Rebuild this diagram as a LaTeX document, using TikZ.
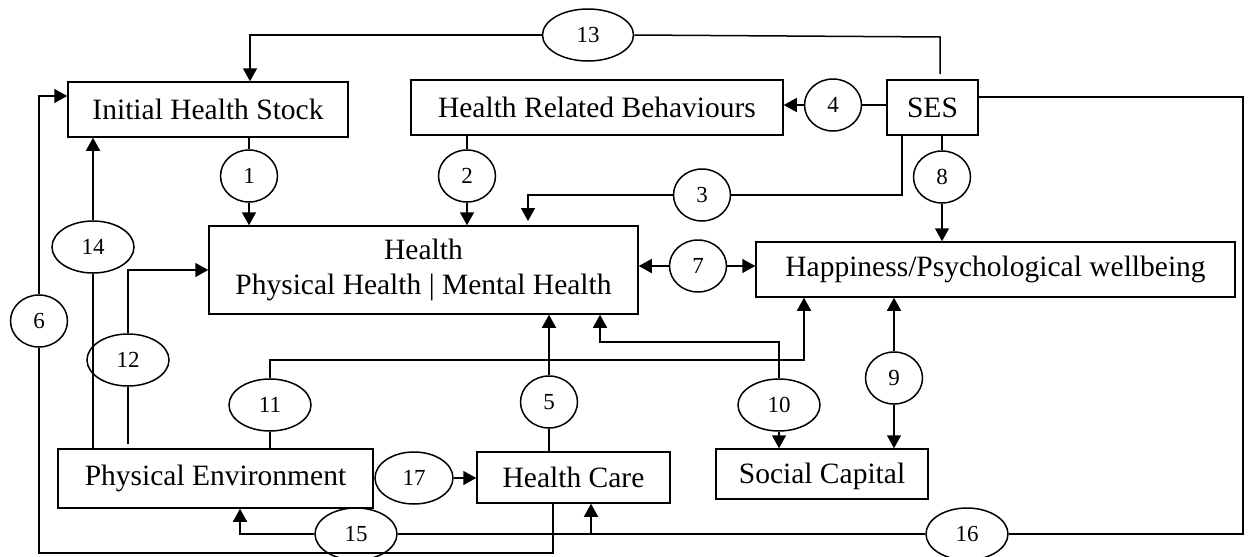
\documentclass[tikz,border=0pt]{standalone}
\usepackage{fontspec}
\setmainfont{Liberation Serif}
\usetikzlibrary{arrows.meta,shapes.geometric}
\begin{document}
\begin{tikzpicture}[x=1pt, y=-1pt, line width=1.5pt,
    box/.style={draw, rectangle, inner sep=0pt, align=center, font=\fontsize{29.5}{35}\selectfont},
    num/.style={draw, ellipse, inner sep=0pt, minimum width=57pt, minimum height=52pt, font=\fontsize{23}{26}\selectfont},
    wnum/.style={num, minimum width=82pt},
    arr/.style={-{Triangle[length=13pt, width=14pt]}}]
    \useasboundingbox (0,0) rectangle (1251,557);
    \node[box, minimum width=280pt, minimum height=55pt] (ihs) at (208,109.5) {Initial Health Stock};
    \node[box, minimum width=372pt, minimum height=55pt] (hrb) at (597,107.5) {Health Related Behaviours};
    \node[box, minimum width=91pt, minimum height=55pt] (ses) at (932.5,107.5) {SES};
    \node[box, minimum width=429pt, minimum height=88pt] (health) at (423.5,270) {Health\\Physical Health | Mental Health};
    \node[box, minimum width=479pt, minimum height=55pt] (happy) at (995.5,269.5) {Happiness/Psychological wellbeing};
    \node[box, minimum width=315pt, minimum height=59pt] (pe) at (215.5,478.5) {Physical Environment};
    \node[box, minimum width=193pt, minimum height=51pt] (hc) at (573.5,477.5) {Health Care};
    \node[box, minimum width=212pt, minimum height=50pt, text depth=2pt] (sc) at (822,474) {Social Capital};
    \node[num] (e1) at (249,176) {1};
    \node[num] (e2) at (467,176) {2};
    \node[num] (e3) at (702,195) {3};
    \node[num] (e4) at (833,105) {4};
    \node[num] (e5) at (549,402) {5};
    \node[num] (e6) at (39,321) {6};
    \node[num] (e7) at (698,266) {7};
    \node[num] (e8) at (942,177) {8};
    \node[num] (e9) at (894,378) {9};
    \node[wnum] (e10) at (779,405) {10};
    \node[wnum] (e11) at (270,405) {11};
    \node[wnum] (e12) at (128,360) {12};
    \node[wnum, minimum width=91pt] (e13) at (588,35) {13};
    \node[wnum] (e14) at (93,247) {14};
    \node[wnum] (e15) at (356,534) {15};
    \node[wnum] (e16) at (967,534) {16};
    \node[wnum, minimum width=78pt] (e17) at (414,478) {17};
    \coordinate (c3) at (902,195);
    \coordinate (t3) at (528,221);
    \coordinate (c6) at (553,553);
    \coordinate (c10) at (600,342);
    \coordinate (c11) at (804,360);
    \coordinate (c12) at (128,444);
    \coordinate (s13) at (940,74);
    \coordinate (c13) at (940,37);
    \coordinate (c15) at (591,534);
    \coordinate (c16) at (1243,534);
    \draw (e1.north) -- (e1.north |- ihs.south);
    \draw[arr] (e1.south) -- (e1.south |- health.north);
    \draw (e2.north) -- (e2.north |- hrb.south);
    \draw[arr] (e2.south) -- (e2.south |- health.north);
    \draw (c3 |- ses.south) -- (c3) -- (e3.east);
    \draw[arr] (e3.west) -| (t3);
    \draw (e4.east) -- (e4.east -| ses.west);
    \draw[arr] (e4.west) -- (e4.west -| hrb.east);
    \draw[arr] (e5.north) -- (e5.north |- health.south);
    \draw (e5.south) -- (e5.south |- hc.north);
    \draw (c6 |- hc.south) -- (c6) -| (e6.south);
    \draw[arr] (e6.north) |- ([yshift=13.5pt]ihs.west);
    \draw[arr] (e7.west) -- (e7.west -| health.east);
    \draw[arr] (e7.east) -- (e7.east -| happy.west);
    \draw (e8.north) -- (e8.north |- ses.south);
    \draw[arr] (e8.south) -- (e8.south |- happy.north);
    \draw[arr] (e9.north) -- (e9.north |- happy.south);
    \draw[arr] (e9.south) -- (e9.south |- sc.north);
    \draw[arr] (e10.north) |- (c10) -- (c10 |- health.south);
    \draw[arr] (e10.south) -- (e10.south |- sc.north);
    \draw (e11.south) -- (e11.south |- pe.north);
    \draw[arr] (e11.north) |- (c11) -- (c11 |- happy.south);
    \draw (e12.south) -- (c12);
    \draw[arr] (e12.north) |- (health.west);
    \draw (s13) -- (c13) -- (e13.east);
    \draw[arr] (e13.west) -| ([xshift=42pt]ihs.north);
    \draw (e14.south) -- (e14.south |- pe.north);
    \draw[arr] (e14.north) -- (e14.north |- ihs.south);
    \draw (c15) -- (e15.east);
    \draw[arr] (e15.west) -| ([xshift=24.5pt]pe.south);
    \draw ([yshift=10.5pt]ses.east) -| (c16) -- (e16.east);
    \draw[arr] (e16.west) -- (c15) -- (c15 |- hc.south);
    \draw[arr] (e17.east) -- (e17.east -| hc.west);
\end{tikzpicture}
\end{document}
